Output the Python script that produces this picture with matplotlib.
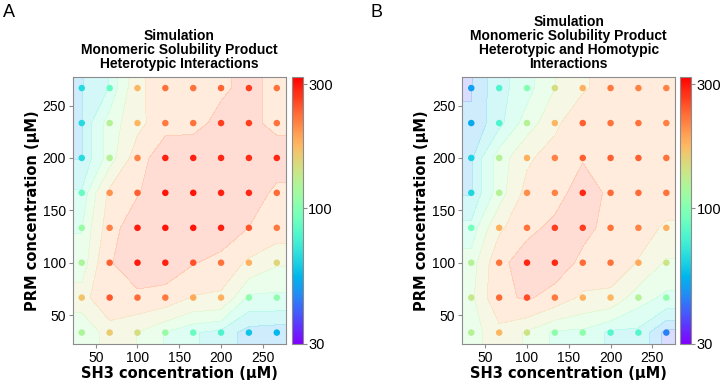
import numpy as np
import matplotlib
matplotlib.use("Agg")
import matplotlib.pyplot as plt
from matplotlib.colors import LogNorm

# concentrations on the grid (uM)
sh3_conc = [33.3, 66.7, 100, 133.3, 166.7, 200, 233.3, 266.7]
prm_conc = [33.3, 66.7, 100, 133.3, 166.7, 200, 233.3, 266.7]

# solubility product, rows from top (PRM=266.7) to bottom (PRM=33.3)
hetero_rows = [
    [65, 87, 175, 225, 225, 235, 265, 225],
    [65, 125, 175, 220, 225, 265, 265, 225],
    [65, 125, 215, 290, 290, 285, 280, 285],
    [88, 200, 240, 300, 300, 290, 285, 230],
    [110, 215, 295, 300, 300, 290, 245, 220],
    [120, 240, 295, 290, 250, 225, 180, 150],
    [165, 245, 230, 220, 185, 180, 105, 105],
    [120, 160, 145, 110, 88, 78, 58, 55],
]
homo_rows = [
    [50, 78, 100, 145, 180, 220, 215, 215],
    [52, 78, 125, 175, 240, 225, 225, 215],
    [62, 125, 180, 215, 240, 240, 240, 225],
    [64, 125, 205, 215, 285, 230, 230, 225],
    [92, 180, 225, 265, 265, 225, 215, 180],
    [125, 225, 285, 285, 230, 225, 185, 140],
    [135, 230, 255, 220, 180, 175, 125, 105],
    [125, 175, 140, 105, 105, 80, 80, 45],
]

titles = ["Simulation\nMonomeric Solubility Product\nHeterotypic Interactions",
          "Simulation\nMonomeric Solubility Product\nHeterotypic and Homotypic\nInteractions"]
panel_letters = ["A", "B"]
cbar_ticks = [30, 100, 300]

lims = (22.5, 277.5)
levels = np.logspace(np.log10(30), np.log10(320), 10)
grey = "#8c8c8c"
cmap = plt.get_cmap("rainbow")

fig = plt.figure(figsize=(7.2, 3.8), dpi=100)

ax_pos = [[0.101, 0.095, 0.296, 0.703], [0.642, 0.095, 0.296, 0.703]]
cb_pos = [[0.406, 0.095, 0.0145, 0.703], [0.945, 0.095, 0.0145, 0.703]]
letter_x = [0.004, 0.515]

for i, rows in enumerate([hetero_rows, homo_rows]):
    vals = np.flipud(np.array(rows, dtype=float))
    norm = LogNorm(vmin=30, vmax=320)
    ax = fig.add_axes(ax_pos[i])

    # background: contour, padded out to the axis edges
    xe = np.concatenate([[lims[0]], sh3_conc, [lims[1]]])
    ye = np.concatenate([[lims[0]], prm_conc, [lims[1]]])
    ve = np.pad(vals, 1, mode="edge")
    band_cols = [cmap(norm(lv)) for lv in levels[:-1]]
    ax.contourf(xe, ye, ve, levels=levels, colors=band_cols, alpha=0.2,
                antialiased=False)

    X, Y = np.meshgrid(sh3_conc, prm_conc)
    sc = ax.scatter(X.ravel(), Y.ravel(), c=vals.ravel(), cmap=cmap, norm=norm,
                    s=22, linewidths=0, zorder=3)

    ax.set_xlim(lims)
    ax.set_ylim(lims)
    ax.set_xticks([50, 100, 150, 200, 250])
    ax.set_yticks([50, 100, 150, 200, 250])
    for lab in ax.get_xticklabels() + ax.get_yticklabels():
        lab.set_fontfamily("Liberation Sans")
        lab.set_fontsize(10)
    ax.tick_params(color=grey, length=3, pad=2)
    for sp in ax.spines.values():
        sp.set_color(grey)
    ax.set_xlabel("SH3 concentration (\u03bcM)", fontsize=10.5, fontweight="bold",
                  fontfamily="DejaVu Sans", labelpad=1)
    ax.set_ylabel("PRM concentration (\u03bcM)", fontsize=10.5, fontweight="bold",
                  fontfamily="DejaVu Sans", labelpad=2)
    ax.set_title(titles[i], fontsize=10, fontweight="bold", fontfamily="Liberation Sans",
                 linespacing=1.0, pad=6)

    cax = fig.add_axes(cb_pos[i])
    cb = fig.colorbar(sc, cax=cax)
    cb.set_ticks(cbar_ticks)
    cb.set_ticklabels([str(t) for t in cbar_ticks])
    cb.ax.minorticks_off()
    cb.outline.set_edgecolor(grey)
    cb.ax.tick_params(color=grey, length=3, pad=1)
    for lab in cb.ax.get_yticklabels():
        lab.set_fontfamily("Liberation Sans")
        lab.set_fontsize(10.5)

    fig.text(letter_x[i], 0.99, panel_letters[i], fontsize=13, fontfamily="Liberation Sans",
             va="top", ha="left")

fig.savefig("out.png", dpi=100)
